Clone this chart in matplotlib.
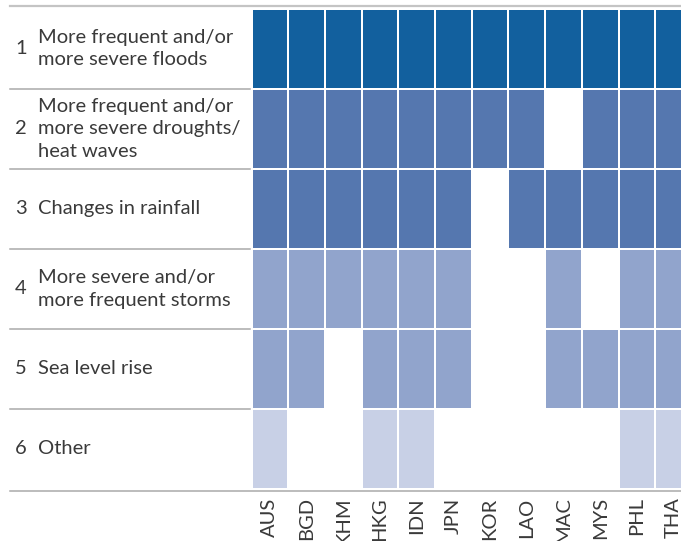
import matplotlib.pyplot as plt
import numpy as np
from matplotlib.colors import ListedColormap

countries = ["AUS", "BGD", "KHM", "HKG", "IDN", "JPN", "KOR", "LAO", "MAC", "MYS", "PHL", "THA"]
numbers = ["1", "2", "3", "4", "5", "6"]
impacts = [
    "More frequent and/or\nmore severe floods",
    "More frequent and/or\nmore severe droughts/\nheat waves",
    "Changes in rainfall",
    "More severe and/or\nmore frequent storms",
    "Sea level rise",
    "Other",
]
# 1 = reported, 0 = not reported
floods = [1, 1, 1, 1, 1, 1, 1, 1, 1, 1, 1, 1]
droughts = [1, 1, 1, 1, 1, 1, 1, 1, 0, 1, 1, 1]
rainfall = [1, 1, 1, 1, 1, 1, 0, 1, 1, 1, 1, 1]
storms = [1, 1, 1, 1, 1, 1, 0, 0, 1, 0, 1, 1]
sealevel = [1, 1, 0, 1, 1, 1, 0, 0, 1, 1, 1, 1]
other = [1, 0, 0, 1, 1, 0, 0, 0, 0, 0, 1, 1]

row_colors = ["#12609e", "#5577af", "#5577af", "#91a4cc", "#91a4cc", "#c8d0e6"]

plt.rcParams['font.family'] = ['Lato', 'DejaVu Sans']
txt = "#3a3a3a"
fs = 14.5

W, H = 681, 541
fig = plt.figure(figsize=(W / 100, H / 100), dpi=100)
left, right, top, bottom = 251.5, 681, 8.5, 489
ax = fig.add_axes([left / W, 1 - bottom / H, (right - left) / W, (bottom - top) / H])

rows = [floods, droughts, rainfall, storms, sealevel, other]
grid = np.full((len(rows), len(countries)), np.nan)
for r, vals in enumerate(rows):
    for c, v in enumerate(vals):
        if v:
            grid[r, c] = r
cmap = ListedColormap(row_colors)
cmap.set_bad("white")
ax.pcolormesh(np.arange(len(countries) + 1), np.arange(len(rows) + 1),
              np.ma.masked_invalid(grid), cmap=cmap, vmin=-0.5, vmax=5.5,
              edgecolor="white", linewidth=1.1)

pitch = 36.7
ax.set_xlim(0, (right - left) / pitch)
ax.set_ylim(len(rows), 0)
for s in ax.spines.values():
    s.set_visible(False)
ax.set_yticks([])
ax.set_xticks(np.arange(len(countries)) + 0.5)
ax.set_xticklabels(countries, rotation=90, fontsize=fs, color=txt)
ax.tick_params(axis="x", length=0, pad=6)

fx = lambda px: (px - left) / (right - left)
tr = ax.get_yaxis_transform()
ax.plot([fx(10), 1], [-0.03, -0.03], transform=tr, color="#c4c4c4", lw=1.6, clip_on=False)
ax.plot([fx(10), 1], [6.02, 6.02], transform=tr, color="#aaaaaa", lw=1.1, clip_on=False)
for k in range(1, len(rows)):
    ax.plot([fx(10), fx(250)], [k, k], transform=tr, color="#aaaaaa", lw=1.1, clip_on=False)

for r in range(len(rows)):
    ax.text(fx(21), r + 0.5, numbers[r], transform=tr, ha="center", va="center",
            fontsize=fs, color=txt)
    ax.text(fx(38), r + 0.5, impacts[r], transform=tr, ha="left", va="center",
            fontsize=fs, color=txt, linespacing=1.4)

fig.savefig("out.png", dpi=100)
